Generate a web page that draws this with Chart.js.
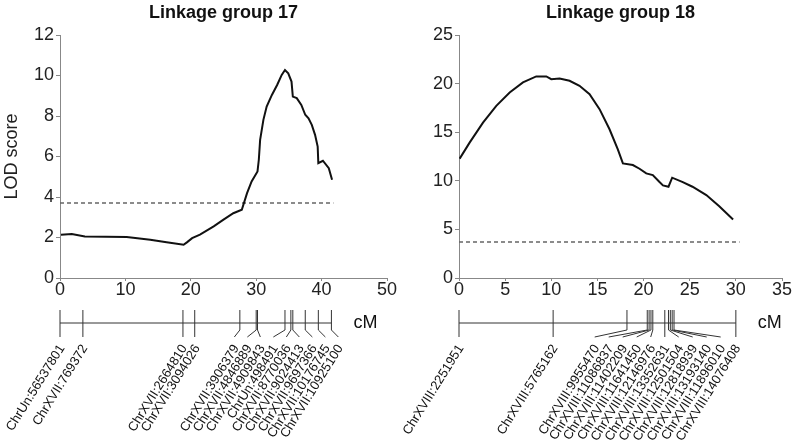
<!DOCTYPE html>
<html>
<head>
<meta charset="utf-8">
<script src="https://cdn.jsdelivr.net/npm/chart.js@4.4.1/dist/chart.umd.min.js"></script>
<style>
  body { margin: 0; background: #fff; width: 793px; height: 444px; overflow: hidden; position: relative; }
  canvas { position: absolute; top: 0; }
</style>
</head>
<body>
<canvas id="lg17" width="400" height="444" style="left:0"></canvas>
<canvas id="lg18" width="393" height="444" style="left:400px"></canvas>
<script>
// LOD profile, linkage group 17
var lg17Pos = [0.15, 1.8, 3.8, 10.2, 13.8, 16.3, 18.9, 19.4, 20.2, 21.4, 23.5, 25.0, 26.5, 27.8, 28.6, 29.3,
               30.2, 30.4, 30.6, 31.1, 31.6, 32.4, 33.2, 33.9, 34.4, 34.9, 35.4, 35.6, 36.2, 36.9, 37.5, 38.0,
               38.5, 39.0, 39.4, 39.5, 40.2, 41.1, 41.6];
var lg17Lod = [2.14, 2.17, 2.05, 2.02, 1.89, 1.76, 1.64, 1.76, 1.97, 2.14, 2.55, 2.88, 3.20, 3.37, 4.19, 4.77,
               5.26, 5.84, 6.82, 7.81, 8.47, 9.04, 9.53, 10.03, 10.27, 10.11, 9.70, 8.96, 8.88, 8.55, 8.06, 7.89,
               7.56, 7.07, 6.49, 5.67, 5.79, 5.42, 4.85];
var lg17Threshold = [3.7, 41.8]; // LOD, end of dashed line (cM)
var lg17Markers = ["ChrUn:56537801", "ChrXVII:769372", "ChrXVII:2664810", "ChrXVII:3094026", "ChrXVII:3906379",
                   "ChrXVII:4846889", "ChrXVII:4909843", "ChrUn:498491", "ChrXVII:8770036", "ChrXVII:9024413",
                   "ChrXVII:9697366", "ChrXVII:10176745", "ChrXVII:10925100"];
var lg17MarkerPos = [0, 3.5, 18.8, 20.6, 27.5, 30.0, 30.2, 34.4, 35.3, 35.6, 37.5, 39.5, 41.5];

// LOD profile, linkage group 18
var lg18Pos = [0.07, 1.15, 2.6, 4.04, 5.49, 6.93, 8.37, 9.46, 10.0, 10.9, 11.98, 13.06, 14.15, 15.23, 16.31,
               17.21, 17.76, 18.84, 19.56, 20.29, 21.0, 21.7, 22.1, 22.7, 23.1, 24.25, 25.3, 26.8, 28.2, 29.7];
var lg18Lod = [12.28, 13.93, 15.99, 17.71, 19.08, 20.12, 20.74, 20.74, 20.46, 20.53, 20.29, 19.77, 18.91, 17.37,
               15.30, 13.24, 11.79, 11.62, 11.24, 10.76, 10.59, 9.90, 9.53, 9.39, 10.32, 9.87, 9.39, 8.53, 7.39, 6.02];
var lg18Threshold = [3.7, 30.4];
var lg18Markers = ["ChrXVIII:2251951", "ChrXVIII:5765162", "ChrXVIII:9955470", "ChrXVIII:11086837",
                   "ChrXVIII:11402209", "ChrXVIII:11641450", "ChrXVIII:12146976", "ChrXVIII:13352631",
                   "ChrXVIII:12501504", "ChrXVIII:12818939", "ChrXVIII:13193140", "ChrXVIII:11896010",
                   "ChrXVIII:14076408"];
var lg18MarkerPos = [0, 10.2, 18.2, 20.4, 20.6, 20.8, 21.0, 22.3, 22.7, 22.9, 23.1, 23.3, 30.0];

Chart.defaults.font.family = "'Liberation Sans', Arial, sans-serif";
Chart.defaults.color = '#222';

// keep labels at least 'gap' px apart, moving them as little as possible
function spreadLabels(px, gap) {
  var blocks = [];
  px.forEach((p, i) => {
    blocks.push({ start: i, n: 1, sum: p - i * gap });
    while (blocks.length > 1) {
      var b = blocks[blocks.length - 1], a = blocks[blocks.length - 2];
      if (a.sum / a.n <= b.sum / b.n) break;
      a.n += b.n; a.sum += b.sum; blocks.pop();
    }
  });
  var out = [];
  blocks.forEach(b => { for (var k = 0; k < b.n; k++) out.push(b.sum / b.n + (b.start + k) * gap); });
  return out;
}

// the genetic map drawn under the x axis, using the chart's x scale
function markerMapPlugin(names, pos, gap) {
  return {
    id: 'markerMap',
    afterDraw(chart) {
      var ctx = chart.ctx, xs = chart.scales.x;
      var yLine = 323, yTop = 310, yKink = 330, yEnd = 337;
      var px = pos.map(v => xs.getPixelForValue(v));
      var lx = spreadLabels(px, gap);
      ctx.save();
      ctx.strokeStyle = '#333';
      ctx.lineWidth = 1;
      ctx.beginPath();
      ctx.moveTo(px[0], yLine);
      ctx.lineTo(px[px.length - 1], yLine);
      ctx.stroke();
      px.forEach((p, i) => {
        ctx.beginPath();
        ctx.moveTo(p, yTop);
        if (Math.abs(lx[i] - p) < 1) {
          ctx.lineTo(p, yEnd);
        } else {
          ctx.lineTo(p, yKink);
          ctx.lineTo(lx[i], yEnd);
        }
        ctx.stroke();
      });
      ctx.fillStyle = '#111';
      ctx.font = "13px 'Liberation Sans', Arial, sans-serif";
      ctx.textAlign = 'right';
      ctx.textBaseline = 'middle';
      lx.forEach((x, i) => {
        ctx.save();
        ctx.translate(x + 2, yEnd + 9);
        ctx.rotate(-58 * Math.PI / 180);
        ctx.fillText(names[i], 0, 0);
        ctx.restore();
      });
      ctx.font = "18px 'Liberation Sans', Arial, sans-serif";
      ctx.textAlign = 'left';
      ctx.fillText('cM', px[px.length - 1] + 22, yLine);
      ctx.restore();
    }
  };
}

function makeChart(id, c) {
  return new Chart(document.getElementById(id), {
    type: 'line',
    data: {
      datasets: [{
        data: c.pos.map((x, i) => ({ x: x, y: c.lod[i] })),
        borderColor: '#111', borderWidth: 2, pointRadius: 0, tension: 0
      }, {
        data: [{ x: 0, y: c.thr[0] }, { x: c.thr[1], y: c.thr[0] }],
        borderColor: '#666', borderWidth: 1.5, borderDash: [4, 3], pointRadius: 0
      }]
    },
    options: {
      responsive: false,
      animation: false,
      layout: { padding: { left: 0, right: c.padRight, top: 0, bottom: 0 } },
      plugins: {
        legend: { display: false },
        tooltip: { enabled: false },
        title: {
          display: true, text: c.title, color: '#111', fullSize: false,
          font: { size: 18, weight: 'bold', lineHeight: 1.2 },
          padding: { top: 2, bottom: 11.4 }
        }
      },
      scales: {
        x: {
          type: 'linear', min: 0, max: c.xMax,
          ticks: { stepSize: c.xStep, font: { size: 18, lineHeight: 1 }, padding: 0, maxRotation: 0 },
          grid: { drawOnChartArea: false, tickLength: 3, color: '#888' },
          border: { color: '#888' },
          afterFit: s => { s.height = 166; }
        },
        y: {
          min: 0, max: c.yMax,
          ticks: { stepSize: c.yStep, font: { size: 18 }, padding: 2 },
          grid: { drawOnChartArea: false, tickLength: 4, color: '#888' },
          border: { color: '#888' },
          title: { display: c.yTitle, text: 'LOD score', font: { size: 18 }, padding: { top: 1, bottom: 0 } },
          afterFit: s => { s.width = c.yWidth; }
        }
      }
    },
    plugins: [markerMapPlugin(c.markers, c.markerPos, c.gap)]
  });
}

makeChart('lg17', {
  title: 'Linkage group 17', pos: lg17Pos, lod: lg17Lod, thr: lg17Threshold,
  markers: lg17Markers, markerPos: lg17MarkerPos, gap: 13,
  xMax: 50, xStep: 10, yMax: 12, yStep: 2, yTitle: true, yWidth: 60, padRight: 13
});
makeChart('lg18', {
  title: 'Linkage group 18', pos: lg18Pos, lod: lg18Lod, thr: lg18Threshold,
  markers: lg18Markers, markerPos: lg18MarkerPos, gap: 14,
  xMax: 35, xStep: 5, yMax: 25, yStep: 5, yTitle: false, yWidth: 59, padRight: 11
});
</script>
</body>
</html>
